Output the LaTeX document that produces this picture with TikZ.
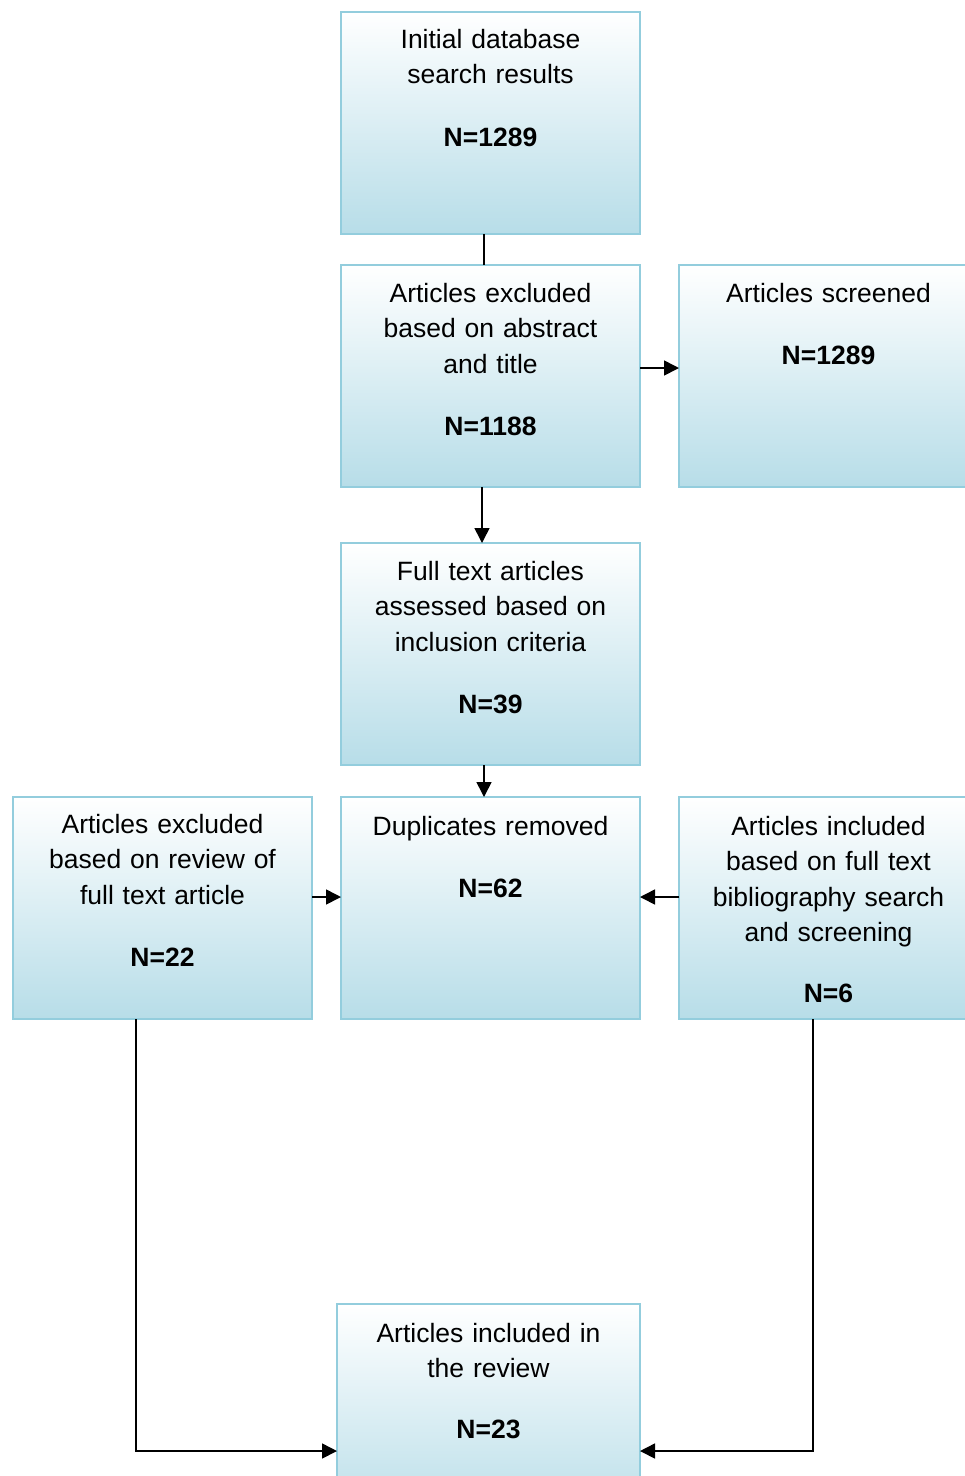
\documentclass[tikz,border=0pt]{standalone}
\usepackage{fontspec}
\setmainfont{Liberation Sans}
\usetikzlibrary{positioning, arrows.meta}
\definecolor{boxline}{RGB}{147,205,221}
\definecolor{boxfill}{RGB}{183,221,232}
\begin{document}
\begin{tikzpicture}[x=1pt, y=-1pt, node distance=31pt,
  box/.style={draw=boxline, line width=2.5pt, top color=white, bottom color=boxfill,
    minimum width=299pt, minimum height=222pt, inner sep=0pt, outer sep=0pt},
  txt/.style={anchor=base, text width=292pt, align=center, inner sep=0pt,
    font=\fontsize{26.5}{35.5}\selectfont},
  link/.style={line width=1.6pt},
  >={Triangle[length=15pt, width=15pt]}]
  \useasboundingbox (0,0) rectangle (965,1476);

  \node[box]                                    (init)     at (490.5,123) {};
  \node[box, below=of init]                     (absexcl)  {};
  \node[box, right=39pt of absexcl]             (screened) {};
  \node[box, below=56pt of absexcl]             (fulltext) {};
  \node[box, below=32pt of fulltext]            (dupl)     {};
  \node[box, left=29pt of dupl]                 (revexcl)  {};
  \node[box, right=39pt of dupl]                (bibincl)  {};
  \node[box, minimum width=303pt, below=285pt of dupl, xshift=-2pt] (review) {};

  \node[txt] (init text)     at ([yshift=-36pt]init.north)
  {Initial database\\search results\\[27pt]\textbf{N=1289}};
  \node[txt] (absexcl text)  at ([yshift=-37pt]absexcl.north)
  {Articles excluded\\based on abstract\\and title\\[27pt]\textbf{N=1188}};
  \node[txt] (screened text) at ([yshift=-37pt]screened.north)
  {Articles screened\\[27pt]\textbf{N=1289}};
  \node[txt] (fulltext text) at ([yshift=-37pt]fulltext.north)
  {Full text articles\\assessed based on\\inclusion criteria\\[27pt]\textbf{N=39}};
  \node[txt] (dupl text)     at ([yshift=-38pt]dupl.north)
  {Duplicates removed\\[27pt]\textbf{N=62}};
  \node[txt] (revexcl text)  at ([yshift=-36pt]revexcl.north)
  {Articles excluded\\based on review of\\full text article\\[27pt]\textbf{N=22}};
  \node[txt] (bibincl text)  at ([yshift=-38pt]bibincl.north)
  {Articles included\\based on full text\\bibliography search\\and screening\\[25pt]\textbf{N=6}};
  \node[txt] (review text)   at ([yshift=-38pt]review.north)
  {Articles included in\\the review\\[25pt]\textbf{N=23}};

  \draw[link]     ([xshift=-6.5pt]init.south)    -- ([xshift=-6.5pt]absexcl.north);
  \draw[link, ->] ([yshift=8pt]absexcl.east)     -- ([yshift=8pt]screened.west);
  \draw[link, ->] ([xshift=-8.5pt]absexcl.south) -- ([xshift=-8.5pt]fulltext.north);
  \draw[link, ->] ([xshift=-6.5pt]fulltext.south) -- ([xshift=-6.5pt]dupl.north);
  \draw[link, ->] ([yshift=11pt]revexcl.east)    -- ([yshift=11pt]dupl.west);
  \draw[link, ->] ([yshift=11pt]bibincl.west)    -- ([yshift=11pt]dupl.east);
  \draw[link, ->] ([xshift=-26.5pt]revexcl.south) |- ([yshift=-36pt]review.west);
  \draw[link, ->] ([xshift=-15.5pt]bibincl.south) |- ([yshift=-36pt]review.east);
\end{tikzpicture}
\end{document}
